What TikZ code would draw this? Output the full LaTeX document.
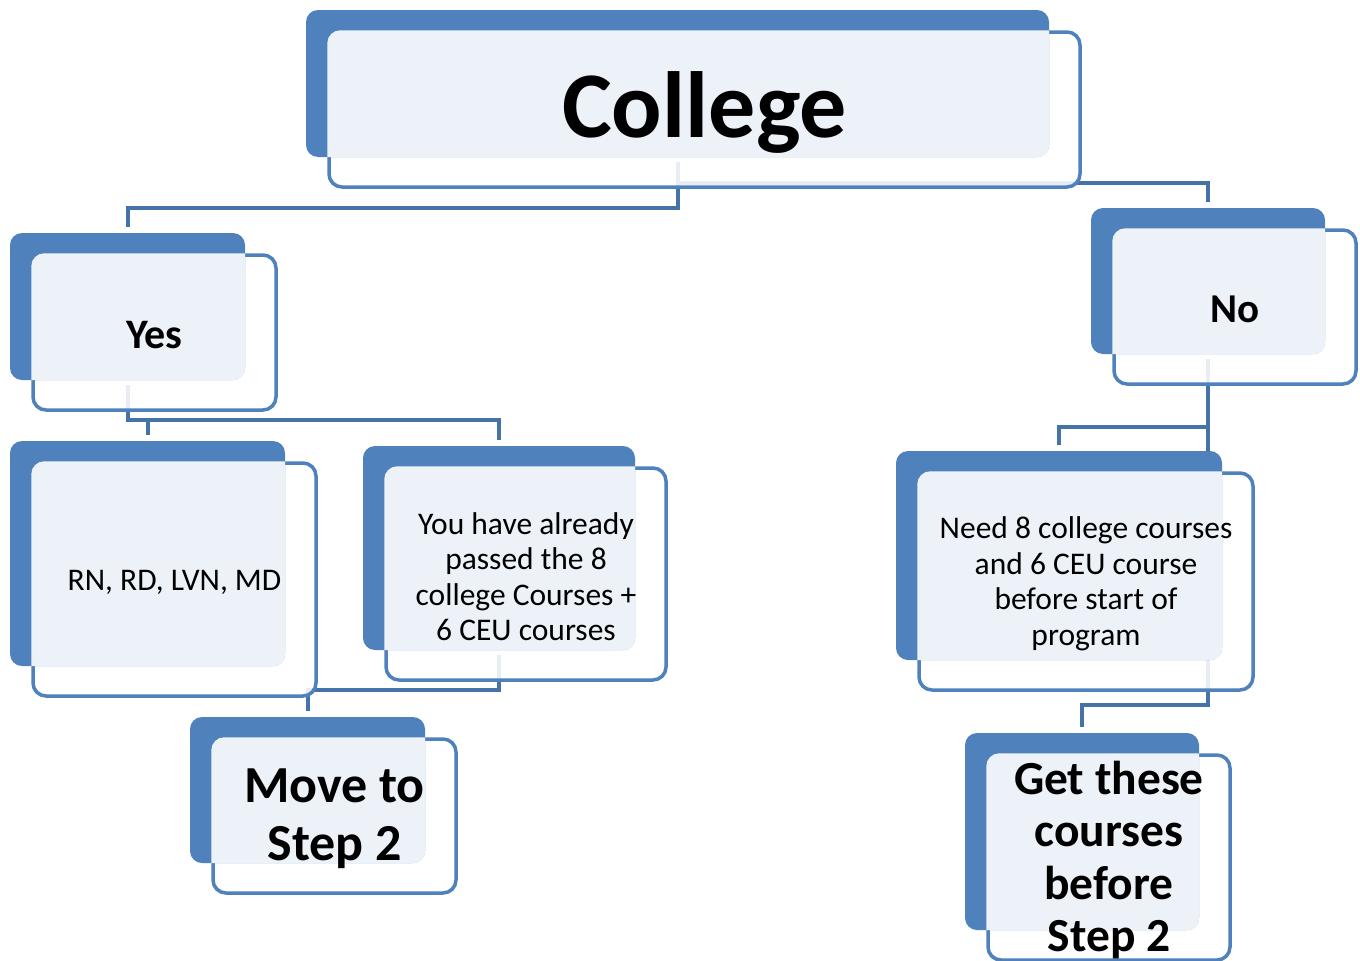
\documentclass[tikz,border=0pt]{standalone}
\usepackage{fontspec}
\setmainfont{Carlito}
\pgfdeclarelayer{bg}
\pgfsetlayers{bg,main}
\definecolor{boxblue}{RGB}{79,129,189}
\definecolor{linkblue}{RGB}{69,114,167}
\definecolor{paleblue}{RGB}{237,242,249}
\tikzset{
  backbox/.style={rectangle, rounded corners=12pt, fill=boxblue, inner sep=0pt},
  frontbox/.style={rectangle, rounded corners=13pt, draw=boxblue, line width=3.5pt,
                   fill=white, fill opacity=0.88, inner sep=0pt},
  link/.style={draw=linkblue, line width=4pt, shorten <=5pt, shorten >=6pt},
  boxtext/.style={align=center, text=black, inner sep=0pt, yshift=-2.5pt},
}
\begin{document}
\begin{tikzpicture}[x=1pt, y=-1pt]
	\useasboundingbox (0,0) rectangle (1360,961);

	% front boxes
	\foreach \n/\x/\y/\w/\h in {college/677.5/83.5/743/147, yes/127.5/306.5/235/147,
	    no/1208/281/234/146, rn/147.5/553.5/275/225, you/499/548/272/204,
	    need/1059/555.5/326/209, move/307.5/790/235/146, get/1082/831.5/234/197}
		\node[frontbox, minimum width={(\w+8)*1pt}, minimum height={(\h+8)*1pt}] (front-\n) at (\x+27,\y+26) {};

	% back boxes
	\foreach \n/\x/\y/\w/\h in {college/677.5/83.5/743/147, yes/127.5/306.5/235/147,
	    no/1208/281/234/146, rn/147.5/553.5/275/225, you/499/548/272/204,
	    need/1059/555.5/326/209, move/307.5/790/235/146, get/1082/831.5/234/197}
		\node[backbox, minimum width=\w pt, minimum height=\h pt] (\n) at (\x,\y) {};

	% pale overlap
	\foreach \n in {college, yes, no, rn, you, need, move, get} {
		\begin{scope}
			\clip[rounded corners=12pt] (\n.south west) rectangle (\n.north east);
			\fill[paleblue, rounded corners=13pt] (front-\n.south west) rectangle (front-\n.north east);
		\end{scope}
	}

	\node[boxtext, font=\fontsize{94}{100}\selectfont\bfseries] (college-text) at (front-college) {College};
	\node[boxtext, font=\fontsize{42}{48}\selectfont\bfseries]  (yes-text)     at (front-yes)     {Yes};
	\node[boxtext, font=\fontsize{41}{48}\selectfont\bfseries]  (no-text)      at (front-no)      {No};
	\node[boxtext, font=\fontsize{31.5}{35.5}\selectfont]       (rn-text)      at (front-rn)      {RN, RD, LVN, MD};
	\node[boxtext, font=\fontsize{31.5}{35.5}\selectfont]       (you-text)     at (front-you)
		{You have already\\passed the 8\\college Courses +\\6 CEU courses};
	\node[boxtext, font=\fontsize{31.5}{35.5}\selectfont]       (need-text)    at (front-need)
		{Need 8 college courses\\and 6 CEU course\\before start of\\program};
	\node[boxtext, font=\fontsize{52}{58}\selectfont\bfseries]  (move-text)    at (front-move)    {Move to\\Step 2};
	\node[boxtext, font=\fontsize{47.5}{52.5}\selectfont\bfseries] (get-text)  at (front-get)
		{Get these\\courses\\before\\Step 2};

	\begin{pgfonlayer}{bg}
		\fill[white] (0,0) rectangle (1360,961);
		\path[link] (college.south) |- (yes.north |- 0,208)  -- (yes.north);
		\path[link] (college.south) |- (no.north |- 0,183)   -- (no.north);
		\path[link] (yes.south)     |- (rn.north |- 0,420)   -- (rn.north);
		\path[link] (yes.south)     |- (you.north |- 0,420)  -- (you.north);
		\path[link] (you.south)     |- (move.north |- 0,690) -- (move.north);
		\path[link] (no.south)      |- (need.north |- 0,427) -- (need.north);
		\path[link] (no.south)      |- (get.north |- 0,705)  -- (get.north);
	\end{pgfonlayer}
\end{tikzpicture}
\end{document}
